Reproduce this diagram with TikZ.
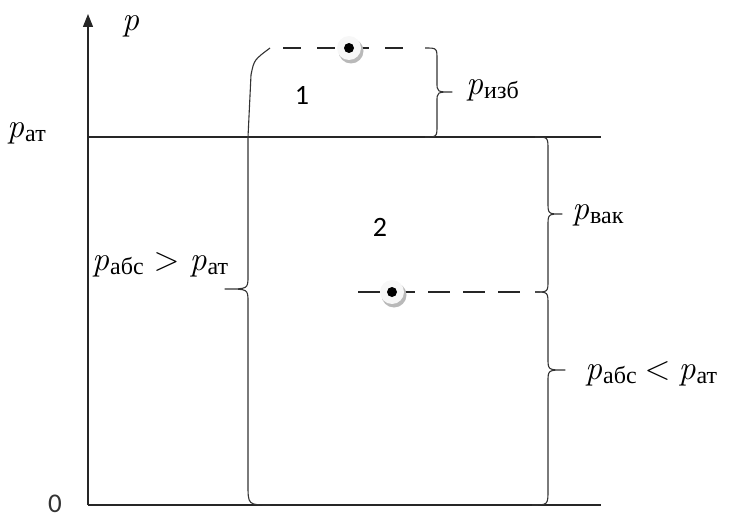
\documentclass[tikz,border=0pt]{standalone}
\usepackage{fontspec}
\newfontfamily\cyr{Liberation Serif}
\newfontfamily\numfont{Carlito}
\usetikzlibrary{arrows.meta}
\tikzset{
  axisline/.style={line width=1.1pt, black!85},
  bracepath/.style={line width=1.1pt, black!80, line join=round},
  dashlineA/.style={line width=1.1pt, black!85, dash pattern=on 18pt off 16pt},
  dashlineB/.style={line width=1.1pt, black!85, dash pattern=on 22pt off 13pt},
  lbl/.style={inner sep=0pt, anchor=base west, font=\fontsize{34}{38}\selectfont},
  numlbl/.style={inner sep=0pt, font=\numfont\fontsize{28}{32}\selectfont},
}
\newcommand{\pp}[1]{\textit{p}\kern1pt\raisebox{-4pt}{\fontsize{24}{26}\selectfont\cyr #1}}
\begin{document}
\begin{tikzpicture}[x=1pt,y=-1pt]
\useasboundingbox (0,0) rectangle (747,519);
% axes
\coordinate (O) at (88,505);
\coordinate (Ytop) at (88,14);
\coordinate (Xend) at (601,505);
\coordinate (Aleft) at (88,137);
\coordinate (Aright) at (601,137);
\draw[axisline, -{Triangle[length=13pt,width=10pt]}] (O) -- (Ytop);
\draw[axisline] (O) -- (Xend);
\draw[axisline] (Aleft) -- (Aright);
% labels on axis
\node[lbl] (plab) at (122,31) {\textit{p}};
\node[lbl] (pat) at (7,137) {\pp{ат}};
\node[numlbl, anchor=base, font=\numfont\fontsize{27}{30}\selectfont, text=black!80] (zero) at (55,512) {0};
% point 1
\coordinate (d1a) at (283,48);
\coordinate (d1b) at (414,48);
\draw[dashlineA] (d1a) -- (d1b);
\fill[gray!55] (351,51) circle (12.5pt);
\fill[gray!6] (349,48) circle (12pt);
\fill[black] (349,48) circle (5pt);
\node[numlbl] (n1) at (302,95) {1};
% point 2
\coordinate (d2a) at (358,292);
\coordinate (d2b) at (520,292);
\draw[dashlineB] (d2a) -- (d2b);
\fill[gray!55] (394,295) circle (12.5pt);
\fill[gray!6] (392,292) circle (12pt);
\fill[black] (392,292) circle (5pt);
\node[numlbl] (n2) at (380,227) {2};
% left big brace
\draw[bracepath] (270,48) .. controls (254,60) .. (251,75) -- (248,137) -- (248,276)
  .. controls (248,289) .. (225,289) .. controls (248,289) .. (248,302)
  -- (248,484) .. controls (248,505) .. (270,505);
% brace p_izb
\draw[bracepath] (425,48) .. controls (437,48) .. (437,60) -- (437,82)
  .. controls (437,92) .. (452,92) .. controls (437,92) .. (437,102)
  -- (437,125) .. controls (437,137) .. (425,137);
% brace p_vak
\draw[bracepath] (535,137) .. controls (548,137) .. (548,150) -- (548,202)
  .. controls (548,214) .. (562,214) .. controls (548,214) .. (548,226)
  -- (548,280) .. controls (548,292) .. (535,292);
% brace p_abs < p_at
\draw[bracepath] (535,292) .. controls (548,292) .. (548,305) -- (548,358)
  .. controls (548,370) .. (565,370) .. controls (548,370) .. (548,382)
  -- (548,490) .. controls (548,505) .. (532,505);
% brace labels
\node[lbl] (pizb) at (466,94) {\pp{изб}};
\node[lbl] (pvak) at (572,219) {\pp{вак}};
\node[lbl] (pgt) at (92,270) {\pp{абс}\hspace{10pt}>\hspace{10pt}\pp{ат}};
\node[lbl] (plt) at (585,379) {\pp{абс}\hspace{8pt}<\hspace{8pt}\pp{ат}};
\end{tikzpicture}
\end{document}
